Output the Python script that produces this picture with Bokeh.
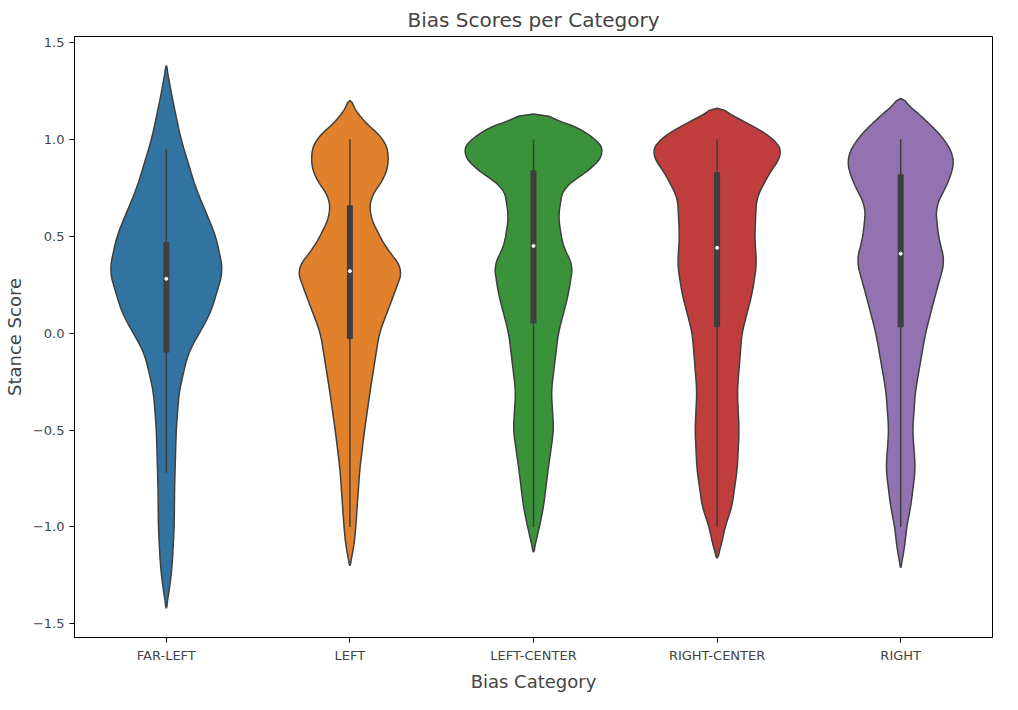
import numpy as np
from bokeh.plotting import figure
from bokeh.models import Range1d, FixedTicker
from bokeh.embed import file_html
from bokeh.resources import INLINE

categories = ["FAR-LEFT", "LEFT", "LEFT-CENTER", "RIGHT-CENTER", "RIGHT"]
colors = ["#3274a1", "#e1812c", "#3a923a", "#c03d3e", "#9372b2"]

# violin outlines: stance levels and half-widths (in category units)
far_left_y = [-1.42, -1.3, -1.2, -1.0, -0.8, -0.5, -0.3, -0.1, 0.1, 0.32, 0.5, 0.75, 1.0, 1.2, 1.38]
far_left_w = [0.0, 0.02, 0.032, 0.043, 0.045, 0.054, 0.07, 0.12, 0.24, 0.31, 0.27, 0.16, 0.08, 0.035, 0.0]
left_y = [-1.2, -1.1, -1.0, -0.7, -0.5, -0.3, 0.0, 0.2, 0.33, 0.45, 0.6, 0.7, 0.8, 0.9, 1.0, 1.1, 1.2]
left_w = [0.0, 0.022, 0.032, 0.054, 0.08, 0.11, 0.16, 0.24, 0.29, 0.19, 0.11, 0.11, 0.19, 0.215, 0.19, 0.065, 0.0]
lc_y = [-1.13, -1.0, -0.9, -0.7, -0.5, -0.3, 0.0, 0.2, 0.35, 0.45, 0.6, 0.75, 0.85, 0.93, 1.0, 1.1, 1.13]
lc_w = [0.0, 0.032, 0.054, 0.08, 0.11, 0.097, 0.135, 0.19, 0.215, 0.16, 0.135, 0.16, 0.32, 0.39, 0.35, 0.16, 0.0]
rc_y = [-1.16, -1.1, -1.0, -0.9, -0.7, -0.5, -0.3, 0.0, 0.2, 0.35, 0.5, 0.7, 0.85, 0.92, 1.0, 1.1, 1.16]
rc_w = [0.0, 0.022, 0.043, 0.08, 0.11, 0.12, 0.11, 0.135, 0.19, 0.215, 0.205, 0.215, 0.3, 0.36, 0.32, 0.135, 0.0]
right_y = [-1.21, -1.1, -1.0, -0.9, -0.7, -0.5, -0.3, 0.0, 0.2, 0.37, 0.5, 0.65, 0.8, 0.9, 1.0, 1.1, 1.21]
right_w = [0.0, 0.022, 0.032, 0.054, 0.08, 0.065, 0.08, 0.135, 0.19, 0.24, 0.205, 0.19, 0.27, 0.295, 0.24, 0.135, 0.0]

# box statistics
q1 = [-0.10, -0.03, 0.05, 0.03, 0.03]
median = [0.28, 0.32, 0.45, 0.44, 0.41]
q3 = [0.47, 0.66, 0.84, 0.83, 0.82]
whisk_lo = [-0.72, -1.0, -1.0, -1.0, -1.0]
whisk_hi = [0.95, 1.0, 1.0, 1.0, 1.0]

outlines = [(far_left_y, far_left_w), (left_y, left_w), (lc_y, lc_w), (rc_y, rc_w), (right_y, right_w)]

p = figure(width=1002, height=694, output_backend="svg", toolbar_location=None,
           x_range=Range1d(-0.5, 4.5), y_range=Range1d(-1.57, 1.53),
           min_border_left=70, min_border_right=10, min_border_bottom=10,
           title="Bias Scores per Category")
p.title.align = "center"
p.title.text_font_size = "20px"
p.title.text_font_style = "normal"
p.title.text_font = "DejaVu Sans"
p.grid.visible = False
p.outline_line_color = "black"

for i, (ys, ws) in enumerate(outlines):
    yy = np.linspace(ys[0], ys[-1], 200)
    ww = np.interp(yy, ys, ws)
    ww = np.convolve(np.pad(ww, 4, mode="edge"), np.ones(9) / 9, mode="valid")
    ww[0] = ww[-1] = 0
    xs = np.concatenate([i - ww, (i + ww)[::-1]])
    yv = np.concatenate([yy, yy[::-1]])
    p.patch(xs, yv, fill_color=colors[i], line_color="#3f3f3f", line_width=1.5)
    p.segment(i, whisk_lo[i], i, whisk_hi[i], line_color="#3f3f3f", line_width=1.5)
    p.segment(i, q1[i], i, q3[i], line_color="#3f3f3f", line_width=6)
    p.scatter([i], [median[i]], size=3, color="white")

p.xaxis.ticker = FixedTicker(ticks=list(range(5)))
p.xaxis.major_label_overrides = {i: c for i, c in enumerate(categories)}
p.yaxis.ticker = FixedTicker(ticks=[-1.5, -1.0, -0.5, 0.0, 0.5, 1.0, 1.5])
p.yaxis.major_label_overrides = {-1.5: "\u22121.5", -1.0: "\u22121.0", -0.5: "\u22120.5",
                                 0.0: "0.0", 0.5: "0.5", 1.0: "1.0", 1.5: "1.5"}
p.xaxis.axis_label = "Bias Category"
p.yaxis.axis_label = "Stance Score"
for ax in (p.xaxis, p.yaxis):
    ax.axis_label_text_font_size = "18px"
    ax.axis_label_text_font_style = "normal"
    ax.axis_label_text_font = "DejaVu Sans"
    ax.major_label_text_font_size = "13px"
    ax.major_label_text_font = "DejaVu Sans"
    ax.minor_tick_line_color = None
    ax.major_tick_out = 5
    ax.major_tick_in = 0

open("out.html", "w").write(file_html(p, INLINE))
